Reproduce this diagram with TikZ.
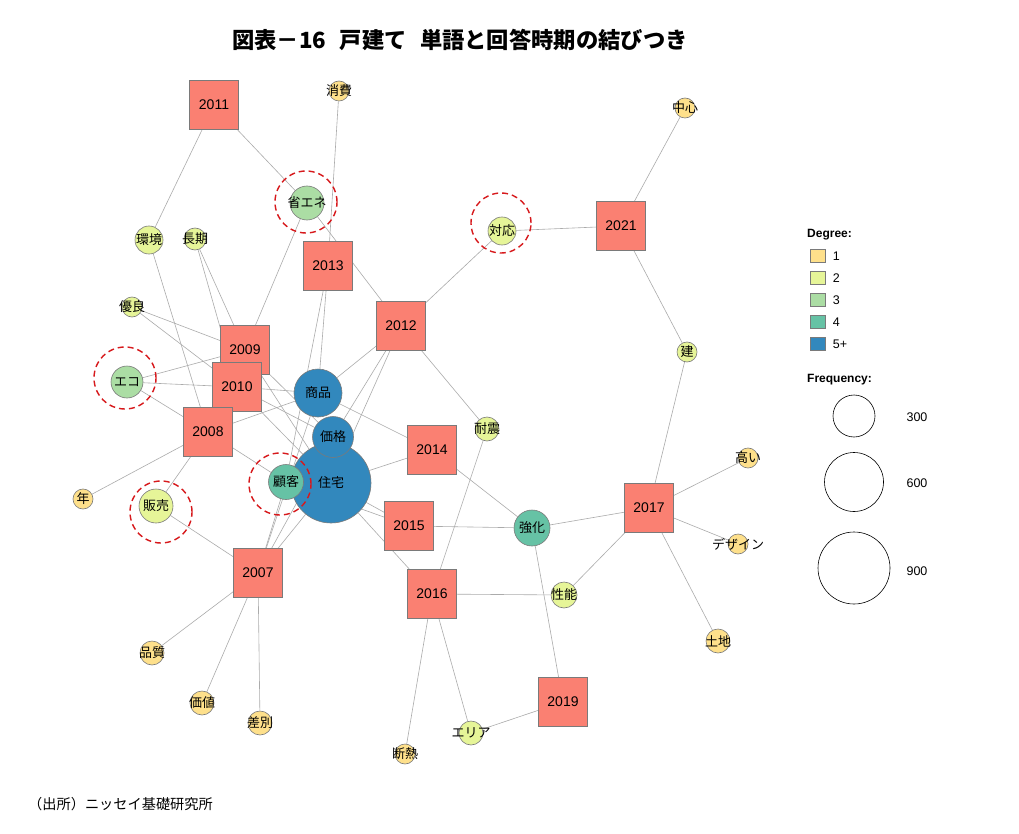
\documentclass[tikz,border=0pt]{standalone}
\usepackage{fontspec}
\setmainfont{Liberation Sans}
\newfontfamily\jp{Noto Sans CJK JP}
\usetikzlibrary{backgrounds,positioning}

\definecolor{yearfill}{HTML}{FA8072}
\definecolor{boxline}{HTML}{7A7A7A}
\definecolor{edgegray}{HTML}{ABABAB}
\definecolor{ringred}{HTML}{D7191C}
\definecolor{dega}{HTML}{FEE08B}
\definecolor{degb}{HTML}{E6F598}
\definecolor{degc}{HTML}{ABDDA4}
\definecolor{degd}{HTML}{66C2A5}
\definecolor{dege}{HTML}{3288BD}

\begin{document}
\begin{tikzpicture}[
        x=1pt, y=-1pt,
        link/.style={draw=edgegray, line width=0.6pt},
        year/.style={rectangle, draw=boxline, line width=0.6pt, fill=yearfill, minimum size=49pt, inner sep=0pt, font=\fontsize{14}{14}\selectfont},
        word/.style={circle, draw=boxline, line width=0.6pt, minimum size=2*#1pt, inner sep=0pt},
        wlbl/.style={font=\jp\fontsize{13}{13}\selectfont, inner sep=0pt},
        ring/.style={draw=ringred, line width=1.4pt, dash pattern=on 6pt off 4pt},
        keybox/.style={rectangle, draw=boxline, line width=0.5pt, minimum width=15pt, minimum height=13pt, inner sep=0pt},
        keytxt/.style={font=\fontsize{12.5}{12}\selectfont, inner sep=0pt},
        keyhead/.style={font=\bfseries\fontsize{12}{12}\selectfont, anchor=west, inner sep=0pt},
        freq/.style={circle, draw=black, line width=0.6pt, minimum size=2*#1pt, inner sep=0pt},
    ]

    \useasboundingbox (0,0) rectangle (1019,834);

    %Title and source
    \node[font=\jp\bfseries\fontsize{22.3}{22}\selectfont] (title) at (460,40) {図表－16\hspace{0.6em}戸建て\hspace{0.6em}単語と回答時期の結びつき};
    \node[font=\jp\fontsize{14.2}{14}\selectfont, anchor=west, inner sep=0pt] (src) at (28,804) {（出所）ニッセイ基礎研究所};

    %Year boxes
    \node[year] (y2011) at (214,105) {2011};
    \node[year] (y2013) at (328,266) {2013};
    \node[year] (y2012) at (401,326) {2012};
    \node[year] (y2021) at (621,226) {2021};
    \node[year] (y2009) at (245,350) {2009};
    \node[year] (y2010) at (237,387) {2010};
    \node[year] (y2008) at (208,432) {2008};
    \node[year] (y2014) at (432,450) {2014};
    \node[year] (y2015) at (409,526) {2015};
    \node[year] (y2016) at (432,594) {2016};
    \node[year] (y2007) at (258,573) {2007};
    \node[year] (y2017) at (649,508) {2017};
    \node[year] (y2019) at (563,702) {2019};

    %Word circles
    \node[word=10, fill=dega, label={[wlbl]center:消費}] (shohi) at (339,91) {};
    \node[word=10, fill=dega, label={[wlbl]center:中心}] (chushin) at (685,108) {};
    \node[word=14, fill=degb, label={[wlbl]center:環境}] (kankyo) at (149,240) {};
    \node[word=11, fill=degb, label={[wlbl]center:長期}] (choki) at (195,239) {};
    \node[word=10, fill=degb, label={[wlbl]center:優良}] (yuryo) at (132,307) {};
    \node[word=17, fill=degc, label={[wlbl]center:省エネ}] (shoene) at (307,203) {};
    \node[word=16, fill=degc, label={[wlbl]center:エコ}] (eco) at (127,382) {};
    \node[word=14, fill=degb, label={[wlbl]center:対応}] (taio) at (502,231) {};
    \node[word=10, fill=degb, label={[wlbl]center:建}] (ken) at (687,352) {};
    \node[word=12, fill=degb, label={[wlbl]center:耐震}] (taishin) at (487,429) {};
    \node[word=10, fill=dega, label={[wlbl]center:高い}] (takai) at (748,458) {};
    \node[word=10, fill=dega, label={[wlbl]center:デザイン}] (design) at (738,544) {};
    \node[word=12, fill=dega, label={[wlbl]center:土地}] (tochi) at (718,641) {};
    \node[word=13, fill=degb, label={[wlbl]center:性能}] (seino) at (564,595) {};
    \node[word=18, fill=degd, label={[wlbl]center:強化}] (kyoka) at (532,528) {};
    \node[word=12, fill=degb, label={[wlbl]center:エリア}] (eria) at (471,733) {};
    \node[word=10, fill=dega, label={[wlbl]center:断熱}] (dannetsu) at (405,754) {};
    \node[word=10, fill=dega, label={[wlbl]center:年}] (nen) at (83,499) {};
    \node[word=17, fill=degb, label={[wlbl]center:販売}] (hanbai) at (156,506) {};
    \node[word=12, fill=dega, label={[wlbl]center:品質}] (hinshitsu) at (152,653) {};
    \node[word=12, fill=dega, label={[wlbl]center:価値}] (kachi) at (202,703) {};
    \node[word=12, fill=dega, label={[wlbl]center:差別}] (sabetsu) at (260,723) {};
    \node[word=40, fill=dege, label={[wlbl]center:住宅}] (jutaku) at (331,483) {};
    \node[word=20.5, fill=dege, label={[wlbl]center:価格}] (kakaku) at (333,437) {};
    \node[word=24, fill=dege, label={[wlbl]center:商品}] (shohin) at (318,393) {};
    \node[word=17.5, fill=degd, label={[wlbl]center:顧客}] (kokyaku) at (286,482) {};

    %Connectors
    \begin{pgfonlayer}{background}
        \fill[white] (0,0) rectangle (1019,834);
        \foreach \a/\b in {y2011/kankyo, y2011/shoene,
                y2013/shohi, y2013/shohin, y2013/kokyaku,
                y2012/shoene, y2012/taio, y2012/taishin, y2012/shohin, y2012/kakaku, y2012/jutaku,
                y2021/chushin, y2021/taio, y2021/ken,
                y2009/choki, y2009/yuryo, y2009/eco, y2009/shoene, y2009/kakaku, y2009/jutaku,
                y2010/choki, y2010/yuryo, y2010/eco, y2010/shohin, y2010/kakaku, y2010/jutaku,
                y2008/kankyo, y2008/eco, y2008/nen, y2008/hanbai, y2008/shohin, y2008/kokyaku,
                y2007/hanbai, y2007/hinshitsu, y2007/kachi, y2007/sabetsu, y2007/jutaku, y2007/kokyaku, y2007/shohin, y2007/kakaku,
                y2014/shohin, y2014/jutaku, y2014/kyoka,
                y2015/jutaku, y2015/kokyaku, y2015/kyoka,
                y2016/jutaku, y2016/taishin, y2016/seino, y2016/dannetsu, y2016/eria,
                y2017/ken, y2017/kyoka, y2017/seino, y2017/takai, y2017/design, y2017/tochi,
                y2019/kyoka, y2019/eria}
            \draw[link] (\a) -- (\b);
    \end{pgfonlayer}

    %Dashed rings
    \draw[ring] (306,202) circle (31pt);
    \draw[ring] (501,223) circle (30pt);
    \draw[ring] (125,378) circle (31pt);
    \draw[ring] (161,512) circle (31pt);
    \draw[ring] (280,484) circle (31pt);

    %Legend: degree
    \node[keyhead] (deghead) at (807,235) {Degree:};
    \node[keybox, fill=dega] (k1) at (818,256) {};
    \node[keybox, fill=degb] (k2) at (818,278) {};
    \node[keybox, fill=degc] (k3) at (818,300) {};
    \node[keybox, fill=degd] (k4) at (818,322) {};
    \node[keybox, fill=dege] (k5) at (818,344) {};
    \node[keytxt, right=7pt of k1] {1};
    \node[keytxt, right=7pt of k2] {2};
    \node[keytxt, right=7pt of k3] {3};
    \node[keytxt, right=7pt of k4] {4};
    \node[keytxt, right=7pt of k5] {5+};

    %Legend: frequency
    \node[keyhead] (freqhead) at (807,380) {Frequency:};
    \node[freq=21] (f300) at (854,416) {};
    \node[freq=29.5] (f600) at (854,482) {};
    \node[freq=36] (f900) at (854,568) {};
    \node[keytxt] at (917,417) {300};
    \node[keytxt] at (917,483) {600};
    \node[keytxt] at (917,571) {900};
\end{tikzpicture}
\end{document}
